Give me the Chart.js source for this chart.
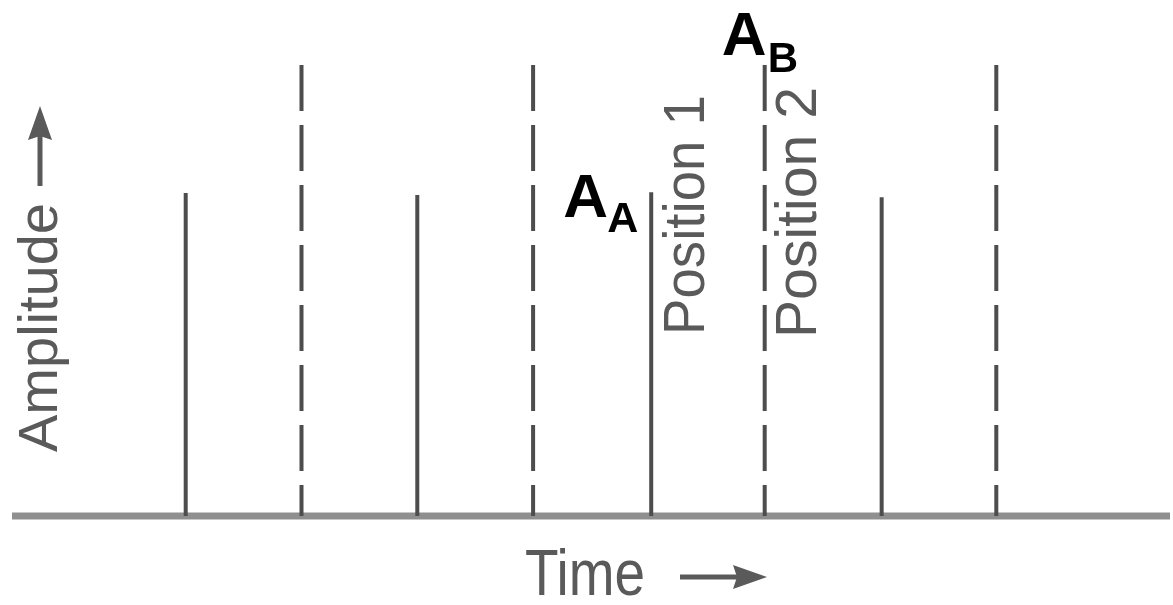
<!DOCTYPE html>
<html>
<head>
<meta charset="utf-8">
<script src="https://cdn.jsdelivr.net/npm/chart.js@4/dist/chart.umd.min.js"></script>
<style>
  html, body { margin: 0; padding: 0; background: #fff; }
  #wrap { width: 1173px; height: 605px; }
</style>
</head>
<body>
<div id="wrap"><canvas id="pulseChart"></canvas></div>
<script>
// pulse times (arbitrary units) and heights
const solidTimes = [15, 35, 55.2, 75.1];
const solidAmps = [0.716, 0.712, 0.718, 0.707];
const dashedTimes = [25, 45, 65, 85];
const dashedAmps = [1, 1, 1, 1];
const timeRange = [0, 100];

const lineGrey = "#4d4d4d";
const textGrey = "#5a5a5a";

let datasets = [];

datasets.push({
    label: "baseline",
    data: [{ x: timeRange[0], y: 0 }, { x: timeRange[1], y: 0 }],
    borderColor: "#8f8f8f",
    borderWidth: 7,
    order: 10
});

solidTimes.forEach((t, i) => {
    datasets.push({
        label: "A" + i,
        data: [{ x: t, y: solidAmps[i] }, { x: t, y: 0 }],
        borderColor: lineGrey,
        borderWidth: 4
    });
});

dashedTimes.forEach((t, i) => {
    datasets.push({
        label: "B" + i,
        data: [{ x: t, y: dashedAmps[i] }, { x: t, y: 0 }],
        borderColor: lineGrey,
        borderWidth: 4,
        borderDash: [46, 14]
    });
});

// draws text squeezed/stretched along its length to hit a target length
function fitText(ctx, text, x, y, font, len, rot) {
    ctx.save();
    ctx.font = font;
    let w = ctx.measureText(text).width;
    ctx.translate(x, y);
    if (rot) ctx.rotate(rot);
    ctx.scale(len / w, 1);
    ctx.textAlign = "left";
    ctx.textBaseline = "alphabetic";
    ctx.fillText(text, 0, 0);
    ctx.restore();
}

function arrow(ctx, x1, y1, x2, y2) {
    let ang = Math.atan2(y2 - y1, x2 - x1);
    let len = Math.hypot(x2 - x1, y2 - y1);
    ctx.save();
    ctx.translate(x1, y1);
    ctx.rotate(ang);
    ctx.fillStyle = textGrey;
    ctx.fillRect(0, -2.5, len - 30, 5);
    ctx.beginPath();
    ctx.moveTo(len, 0);
    ctx.lineTo(len - 34, -12);
    ctx.lineTo(len - 30, 0);
    ctx.lineTo(len - 34, 12);
    ctx.closePath();
    ctx.fill();
    ctx.restore();
}

const labelPlugin = {
    id: "labels",
    afterDraw(chart) {
        const ctx = chart.ctx;
        const xs = chart.scales.x, ys = chart.scales.y;
        const area = chart.chartArea;

        ctx.fillStyle = textGrey;
        // y axis title, reading upwards
        fitText(ctx, "Amplitude", 57, 452, "55px 'Liberation Sans', Arial, sans-serif", 249, -Math.PI / 2);
        arrow(ctx, 40, 186, 40, 106);

        // x axis title
        ctx.fillStyle = textGrey;
        fitText(ctx, "Time", 525, area.bottom + 79, "64px 'Liberation Sans', Arial, sans-serif", 120, 0);
        arrow(ctx, 680, 577, 767, 577);

        // position labels beside the third pulse pair
        let p1 = xs.getPixelForValue(solidTimes[2]);
        let p2 = xs.getPixelForValue(dashedTimes[2]);
        ctx.fillStyle = textGrey;
        fitText(ctx, "Position 1", p1 + 53, 335, "58px 'Liberation Sans', Arial, sans-serif", 240, -Math.PI / 2);
        fitText(ctx, "Position 2", p2 + 51, 338, "58px 'Liberation Sans', Arial, sans-serif", 251, -Math.PI / 2);

        // amplitude tags
        ctx.save();
        ctx.fillStyle = "#000";
        ctx.textAlign = "left";
        ctx.textBaseline = "alphabetic";
        let ya = ys.getPixelForValue(solidAmps[2]);
        ctx.font = "bold 62px 'Liberation Sans', Arial, sans-serif";
        ctx.fillText("A", p1 - 88, ya + 25);
        ctx.font = "bold 43px 'Liberation Sans', Arial, sans-serif";
        ctx.fillText("A", p1 - 44, ya + 40);

        let yb = ys.getPixelForValue(dashedAmps[2]);
        ctx.font = "bold 62px 'Liberation Sans', Arial, sans-serif";
        ctx.fillText("A", p2 - 43, yb - 10);
        ctx.font = "bold 42px 'Liberation Sans', Arial, sans-serif";
        ctx.fillText("B", p2 + 3, yb + 7);
        ctx.restore();
    }
};

new Chart(document.getElementById("pulseChart"), {
    type: "scatter",
    data: { datasets: datasets },
    options: {
        responsive: true,
        maintainAspectRatio: false,
        animation: false,
        showLine: true,
        clip: false,
        layout: { padding: { left: 12, right: 3, top: 65, bottom: 89 } },
        elements: { point: { radius: 0, hoverRadius: 0 }, line: { borderCapStyle: "butt" } },
        plugins: { legend: { display: false }, tooltip: { enabled: false } },
        scales: {
            x: { type: "linear", min: timeRange[0], max: timeRange[1], display: false },
            y: { type: "linear", min: 0, max: 1, display: false }
        }
    },
    plugins: [labelPlugin]
});
</script>
</body>
</html>
